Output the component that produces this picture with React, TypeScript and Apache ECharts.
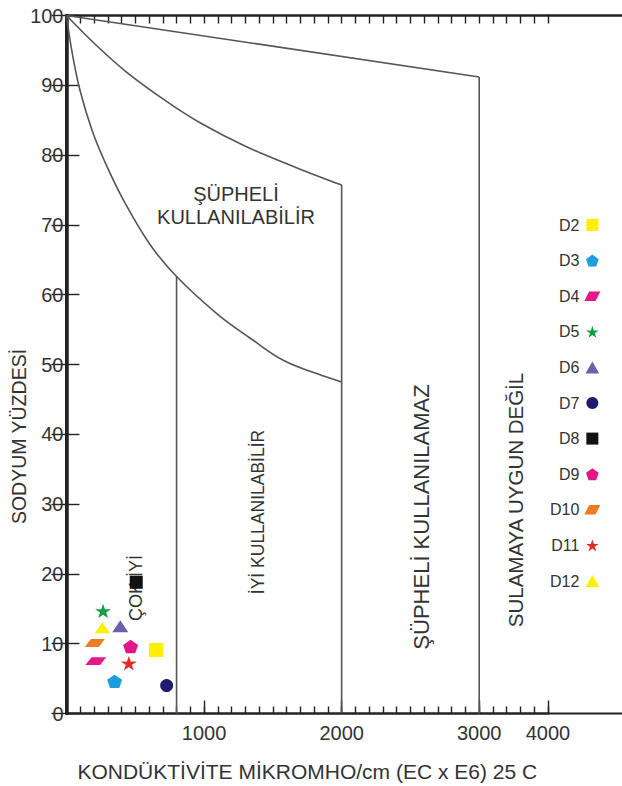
import React, { useEffect, useRef } from "react";
import * as echarts from "echarts";

// ---- sample data (Wilcox diagram) ----
const SAMPLE_NAMES = ["D2", "D3", "D4", "D5", "D6", "D7", "D8", "D9", "D10", "D11", "D12"];
const SAMPLE_EC = [651, 350, 213, 266, 391, 728, 507, 466, 206, 453, 261];
const SAMPLE_NA = [9.1, 4.6, 7.5, 14.7, 12.5, 4.0, 18.8, 9.6, 10.1, 7.2, 12.3];

// ---- class boundaries ----
const UPPER_LIMIT_EC = [0, 3000];
const UPPER_LIMIT_NA = [100, 91.2];
const MID_CURVE_EC = [0, 218, 436, 727, 974, 1308, 1672, 2000];
const MID_CURVE_NA = [100, 95.7, 91.9, 87.7, 84.6, 81.2, 78.2, 75.7];
const LOW_CURVE_EC = [0, 40, 98, 185, 273, 413, 607, 800, 1092, 1334, 1576, 1819, 2000];
const LOW_CURVE_NA = [100, 94.8, 89.3, 83.6, 79.3, 73.6, 67.2, 62.6, 57.3, 53.8, 50.6, 48.7, 47.5];
const EC_CLASS_LIMITS = [800, 2000, 3000];
const EC_LIMIT_TOPS = [62.6, 75.7, 91.2];

// ---- axes ----
const X_AXIS_MAX = 3500;
const X_TICK_VALUES = [1000, 2000, 3000, 3500];
const X_TICK_LABELS = ["1000", "2000", "3000", "4000"];
const Y_MIN = 0;
const Y_MAX = 100;
const Y_INTERVAL = 10;

const X_TITLE = "KONDÜKTİVİTE MİKROMHO/cm (EC x E6) 25 C";
const Y_TITLE = "SODYUM YÜZDESİ";
const REGION_LABELS = [
  "ŞÜPHELİ\nKULLANILABİLİR",
  "İYİ KULLANILABİLİR",
  "ŞÜPHELİ KULLANILAMAZ",
  "SULAMAYA UYGUN DEĞİL",
  "ÇOK İYİ",
];

// ---- styles ----
const SQUARE = "path://M0,0L10,0L10,10L0,10Z";
const PENTAGON = "path://M50,0L97.55,34.55L79.39,90.45L20.61,90.45L2.45,34.55Z";
const PARALLELOGRAM = "path://M30,0L100,0L70,60L0,60Z";
const STAR =
  "path://M50,0L61.23,34.55L97.55,34.55L68.17,55.9L79.39,90.45L50,69.1L20.61,90.45L31.83,55.9L2.45,34.55L38.77,34.55Z";
const TRIANGLE = "path://M50,0L100,87L0,87Z";

const SAMPLE_STYLES = [
  { color: "#FFF000", symbol: SQUARE, size: [14, 14] },
  { color: "#1C9DDC", symbol: PENTAGON, size: [15, 14] },
  { color: "#E5178B", symbol: PARALLELOGRAM, size: [21, 13] },
  { color: "#119E48", symbol: STAR, size: [16, 15] },
  { color: "#6A62A8", symbol: TRIANGLE, size: [16, 14] },
  { color: "#211B70", symbol: "circle", size: [13, 13] },
  { color: "#111111", symbol: SQUARE, size: [13, 13] },
  { color: "#E3178A", symbol: PENTAGON, size: [15, 14] },
  { color: "#EE7D22", symbol: PARALLELOGRAM, size: [20, 13] },
  { color: "#E32B28", symbol: STAR, size: [16, 15] },
  { color: "#FFF000", symbol: TRIANGLE, size: [15, 13] },
];

const FONT = "'Liberation Sans', Arial, Helvetica, sans-serif";
const AXIS_COLOR = "#222";
const TEXT_COLOR = "#333";
const BOUNDARY_COLOR = "#555";

const zip = (xs: number[], ys: number[]) => xs.map((x, i) => [x, ys[i]]);

export default function App() {
  const ref = useRef<HTMLDivElement | null>(null);

  useEffect(() => {
    if (!ref.current) return;
    const chart = echarts.init(ref.current, null, { renderer: "svg" });

    const boundaryLine = { color: BOUNDARY_COLOR, width: 1.6 };
    const boundarySeries: any[] = [
      {
        type: "line",
        data: zip(UPPER_LIMIT_EC, UPPER_LIMIT_NA),
        symbol: "none",
        silent: true,
        lineStyle: boundaryLine,
        z: 2,
      },
      {
        type: "line",
        data: zip(MID_CURVE_EC, MID_CURVE_NA),
        symbol: "none",
        smooth: 0.35,
        silent: true,
        lineStyle: boundaryLine,
        z: 2,
      },
      {
        type: "line",
        data: zip(LOW_CURVE_EC, LOW_CURVE_NA),
        symbol: "none",
        smooth: 0.4,
        silent: true,
        lineStyle: boundaryLine,
        z: 2,
      },
      ...EC_CLASS_LIMITS.map((ec, i) => ({
        type: "line",
        data: [
          [ec, EC_LIMIT_TOPS[i]],
          [ec, 0],
        ],
        symbol: "none",
        silent: true,
        lineStyle: boundaryLine,
        z: 2,
      })),
    ];

    const sampleSeries = SAMPLE_NAMES.map((name, i) => ({
      type: "scatter",
      name,
      data: [[SAMPLE_EC[i], SAMPLE_NA[i]]],
      symbol: SAMPLE_STYLES[i].symbol,
      symbolSize: SAMPLE_STYLES[i].size,
      symbolKeepAspect: true,
      itemStyle: { color: SAMPLE_STYLES[i].color, opacity: 1 },
      z: 5,
    }));

    const regionText = (text: string, x: number, y: number, rotated: boolean, size: number) => ({
      type: "text",
      x,
      y,
      rotation: rotated ? Math.PI / 2 : 0,
      z: 1,
      style: {
        text,
        fill: TEXT_COLOR,
        fontSize: size,
        fontFamily: FONT,
        align: "center",
        verticalAlign: "middle",
        lineHeight: 23,
      },
    });

    chart.setOption({
      animation: false,
      backgroundColor: "#fff",
      textStyle: { fontFamily: FONT },
      grid: {
        left: 66.5,
        right: 74,
        top: 15.5,
        bottom: 72.5,
        containLabel: false,
        outerBoundsMode: "none",
      },
      legend: {
        orient: "vertical",
        left: 550,
        top: 217,
        align: "right",
        padding: 0,
        itemWidth: 16,
        itemHeight: 12,
        itemGap: 19.6,
        selectedMode: false,
        data: SAMPLE_NAMES,
        textStyle: { fontSize: 16, color: TEXT_COLOR, fontFamily: FONT },
      },
      xAxis: [
        {
          type: "value",
          position: "bottom",
          min: 0,
          max: X_AXIS_MAX,
          interval: 1000,
          name: X_TITLE,
          nameLocation: "middle",
          nameGap: 47,
          nameMoveOverlap: false,
          nameTextStyle: { fontSize: 21, color: TEXT_COLOR, fontFamily: FONT },
          axisLine: { lineStyle: { color: AXIS_COLOR, width: 2.5 } },
          axisTick: { inside: true, length: 13, lineStyle: { color: AXIS_COLOR, width: 1.4 } },
          splitLine: { show: false },
          axisLabel: {
            fontSize: 20,
            color: TEXT_COLOR,
            margin: 9,
            formatter: (v: number) => {
              const k = X_TICK_VALUES.indexOf(v);
              return k >= 0 ? X_TICK_LABELS[k] : "";
            },
          },
        },
        {
          type: "value",
          position: "bottom",
          min: 0,
          max: X_AXIS_MAX,
          interval: 100,
          axisLine: { show: false },
          axisTick: { inside: true, length: 7, lineStyle: { color: AXIS_COLOR, width: 1.4 } },
          axisLabel: { show: false },
          splitLine: { show: false },
        },
        {
          type: "value",
          position: "top",
          min: 0,
          max: X_AXIS_MAX,
          interval: 100,
          axisLine: { lineStyle: { color: AXIS_COLOR, width: 2.5 } },
          axisTick: { inside: true, length: 8, lineStyle: { color: AXIS_COLOR, width: 1.4 } },
          axisLabel: { show: false },
          splitLine: { show: false },
        },
      ],
      yAxis: [
        {
          type: "value",
          position: "left",
          min: Y_MIN,
          max: Y_MAX,
          interval: Y_INTERVAL,
          name: Y_TITLE,
          nameLocation: "middle",
          nameRotate: 90,
          nameGap: 38,
          nameMoveOverlap: false,
          nameTextStyle: {
            fontSize: 19.5,
            color: TEXT_COLOR,
            fontFamily: FONT,
            padding: [0, 144, 0, 0],
          },
          axisLine: { lineStyle: { color: AXIS_COLOR, width: 3 } },
          axisTick: { inside: true, length: 13, lineStyle: { color: AXIS_COLOR, width: 1.4 } },
          splitLine: { show: false },
          axisLabel: { fontSize: 20, color: TEXT_COLOR, margin: 3 },
        },
        {
          type: "value",
          position: "right",
          min: Y_MIN,
          max: Y_MAX,
          interval: Y_INTERVAL,
          axisLine: { lineStyle: { color: AXIS_COLOR, width: 3.5 } },
          axisTick: { inside: true, length: 15, lineStyle: { color: AXIS_COLOR, width: 1.4 } },
          axisLabel: { show: false },
          splitLine: { show: false },
        },
      ],
      graphic: [
        {
          type: "line",
          shape: { x1: 548, y1: 15.5, x2: 622, y2: 15.5 },
          style: { stroke: AXIS_COLOR, lineWidth: 2.5 },
        },
        {
          type: "line",
          shape: { x1: 548, y1: 713.5, x2: 622, y2: 713.5 },
          style: { stroke: AXIS_COLOR, lineWidth: 2 },
        },
        regionText(REGION_LABELS[0], 236, 205, false, 20),
        regionText(REGION_LABELS[1], 258, 512, true, 17.5),
        regionText(REGION_LABELS[2], 421, 517, true, 22),
        regionText(REGION_LABELS[3], 515, 500, true, 20.5),
        regionText(REGION_LABELS[4], 136, 588, true, 18),
      ],
      series: [...boundarySeries, ...sampleSeries],
    });

    return () => chart.dispose();
  }, []);

  return (
    <div
      ref={ref}
      style={{ position: "absolute", left: 0, top: 0, width: 622, height: 786, background: "#fff" }}
    />
  );
}
